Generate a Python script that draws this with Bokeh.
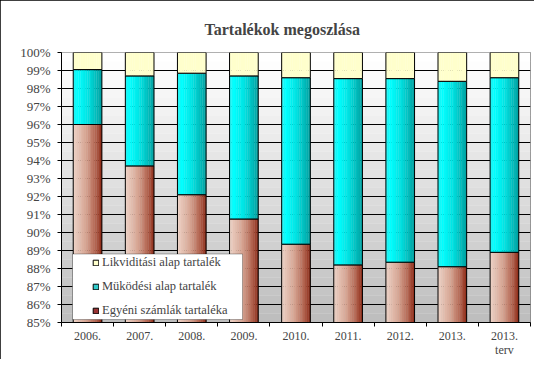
import numpy as np
from bokeh.plotting import figure
from bokeh.models import (Range1d, FixedTicker, PrintfTickFormatter, BoxAnnotation,
                          Legend, LegendItem, ColumnDataSource)
from bokeh.transform import dodge
from bokeh.embed import file_html
from bokeh.resources import INLINE

# ---- data ----
years = ["2006.", "2007.", "2008.", "2009.", "2010.", "2011.", "2012.", "2013.", "2013.\nterv"]
egyeni = [96.0, 93.7, 92.1, 90.75, 89.35, 88.2, 88.35, 88.1, 88.9]
mukodesi = [3.05, 5.0, 6.75, 7.95, 9.25, 10.35, 10.2, 10.3, 9.7]
likviditasi = [0.95, 1.3, 1.15, 1.3, 1.4, 1.45, 1.45, 1.6, 1.4]
series_names = ["Egyéni számlák tartaléka", "Müködési alap tartalék", "Likviditási alap tartalék"]
y_ticks = list(range(85, 101))

FONT = "Liberation Serif"
n = len(years)
xs = np.arange(n) + 0.5

e = np.array(egyeni)
m = np.array(mukodesi)
l = np.array(likviditasi)
src_e = ColumnDataSource(dict(x=xs, b=np.zeros(n), t=e))
src_m = ColumnDataSource(dict(x=xs, b=e, t=e + m))
src_l = ColumnDataSource(dict(x=xs, b=e + m, t=e + m + l))

p = figure(width=534, height=359, output_backend="svg", toolbar_location=None,
           x_range=Range1d(0, n), y_range=Range1d(85, 100),
           min_border_left=61, min_border_right=4, min_border_top=52, min_border_bottom=32,
           background_fill_color="white", border_fill_color="white")
p.styles = {"outline": "1px solid black", "outline-offset": "-1px"}

p.title.text = "Tartalékok megoszlása"
p.title.align = "left"
p.title.offset = 143
p.title.text_font = FONT
p.title.text_font_style = "bold"
p.title.text_font_size = "16px"
p.title.standoff = 30

# background gradient (white top -> gray bottom)
def lerp(c0, c1, f):
    return "#%02x%02x%02x" % tuple(int(round(a + (b - a) * f)) for a, b in zip(c0, c1))

NB = 30
for k in range(NB):
    y0 = 85 + 15 * k / NB
    f = k / (NB - 1)
    c = lerp((190, 190, 190), (255, 255, 255), f)
    p.add_layout(BoxAnnotation(bottom=y0, top=y0 + 15 / NB + 0.02, fill_color=c, fill_alpha=1,
                               line_color=None, level="image"))

p.xgrid.visible = False
p.ygrid.ticker = FixedTicker(ticks=y_ticks[1:-1])
p.ygrid.grid_line_color = "black"
p.ygrid.grid_line_width = 1

p.outline_line_color = "#808080"

def stops_color(stops, f):
    for (f0, c0), (f1, c1) in zip(stops[:-1], stops[1:]):
        if f0 <= f <= f1:
            return lerp(c0, c1, (f - f0) / (f1 - f0))
    return lerp(stops[-1][1], stops[-1][1], 0)

brown_stops = [(0.0, (238, 212, 200)), (0.45, (214, 164, 146)), (0.8, (176, 96, 76)), (1.0, (140, 42, 22))]
cyan_stops = [(0.0, (40, 240, 240)), (0.15, (0, 255, 255)), (0.5, (0, 228, 228)), (1.0, (0, 160, 160))]
cream_stops = [(0.0, (255, 255, 204)), (1.0, (255, 255, 204))]

W = 0.55
NS = 16
legend_renderers = []
for src, stops, lc in [(src_e, brown_stops, "#993333"), (src_m, cyan_stops, "#33cccc"),
                       (src_l, cream_stops, "#ffffcc")]:
    for i in range(NS):
        off = -W / 2 + (i + 0.5) * W / NS
        c = stops_color(stops, (i + 0.5) / NS)
        p.vbar(x=dodge("x", off), width=W / NS * 1.15, bottom="b", top="t", source=src,
               fill_color=c, line_color=None)
    p.vbar(x="x", width=W, bottom="b", top="t", source=src, fill_color=None,
           line_color="black", line_width=1)
    # hidden renderer used only for the legend swatch
    legend_renderers.append(p.vbar(x="x", width=W, bottom="b", top="t", source=src,
                                   fill_color=lc, line_color="black", line_width=1,
                                   visible=False))

# legend frame
PX_X = 52.1
PX_Y = 18.13
p.add_layout(BoxAnnotation(left=11 / PX_X, right=181 / PX_X,
                           bottom=85 + 3 / PX_Y, top=85 + 69 / PX_Y,
                           fill_color="white", fill_alpha=1, line_color="black", line_width=1))

items = [LegendItem(label=series_names[i], renderers=[legend_renderers[i]]) for i in [2, 1, 0]]
legend = Legend(items=items, location=(31, 4), margin=0, padding=0, spacing=8,
                label_height=16, glyph_width=7, glyph_height=7, label_standoff=3,
                label_text_font=FONT, label_text_font_size="12.5px",
                background_fill_alpha=0, border_line_color=None, click_policy="none")
p.add_layout(legend)

# axes
p.yaxis.ticker = FixedTicker(ticks=y_ticks)
p.yaxis.formatter = PrintfTickFormatter(format="%d%%")
p.yaxis.major_tick_out = 4
p.yaxis.major_tick_in = 0
p.yaxis.minor_tick_line_color = None
p.yaxis.axis_line_color = "black"
p.yaxis.major_label_text_font = FONT
p.yaxis.major_label_text_font_size = "13px"
p.yaxis.major_label_standoff = 7

p.xaxis.ticker = FixedTicker(ticks=list(xs), minor_ticks=list(range(n + 1)))
p.xaxis.major_label_overrides = {float(x): y for x, y in zip(xs, years)}
p.xaxis.major_tick_out = 0
p.xaxis.major_tick_in = 0
p.xaxis.minor_tick_out = 4
p.xaxis.minor_tick_in = 0
p.xaxis.minor_tick_line_color = "black"
p.xaxis.axis_line_color = "black"
p.xaxis.major_label_text_font = FONT
p.xaxis.major_label_text_font_size = "12px"
p.xaxis.major_label_text_line_height = 1.0
p.xaxis.major_label_standoff = 2

open("out.html", "w").write(file_html(p, INLINE))
